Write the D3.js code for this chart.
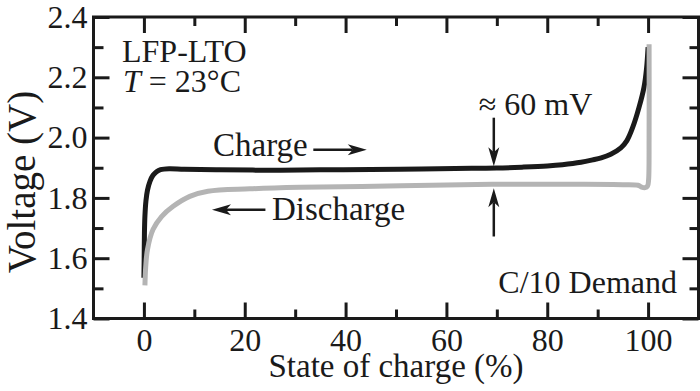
<!DOCTYPE html>
<html>
<head>
<meta charset="utf-8">
<script src="https://cdn.jsdelivr.net/npm/d3@7"></script>
<style>
  body { margin: 0; background: #fff; }
  text { font-family: "Liberation Serif", "Times New Roman", serif; fill: #1a1a1a; }
</style>
</head>
<body>
<div id="main"></div>
<script>
// charge curve (black), state of charge in % and voltage in V
var chargeSoc = [0, 0.05, 0.1, 0.2, 0.4, 0.7, 1.2, 1.8, 2.5, 3.3, 5, 8, 15, 25, 35, 45, 55, 65, 70, 75, 80, 83, 86.7, 89, 90.7, 92.6, 94.6, 95.8, 97, 98.2, 99.2, 99.7, 100];
var chargeV   = [1.535, 1.60, 1.68, 1.74, 1.79, 1.825, 1.855, 1.875, 1.887, 1.894, 1.897, 1.895, 1.893, 1.892, 1.893, 1.894, 1.896, 1.898, 1.899, 1.902, 1.906, 1.910, 1.918, 1.926, 1.933, 1.945, 1.966, 1.99, 2.036, 2.10, 2.168, 2.23, 2.30];

// discharge curve (grey)
var dischargeSoc = [100.2, 100.2, 100.1, 99.9, 99.4, 98.7, 98, 95, 85, 69, 51, 31, 21, 12.7, 9.1, 5.8, 3.5, 1.8, 0.7, 0.35, 0.2];
var dischargeV   = [2.31, 2.0, 1.86, 1.840, 1.834, 1.836, 1.842, 1.844, 1.845, 1.845, 1.840, 1.835, 1.830, 1.822, 1.805, 1.772, 1.738, 1.695, 1.628, 1.57, 1.51];

// tick values
var xMajor = [0, 20, 40, 60, 80, 100];
var xMinor = [10, 30, 50, 70, 90];
var yMajor = [1.4, 1.6, 1.8, 2.0, 2.2, 2.4];
var yMinor = [1.5, 1.7, 1.9, 2.1, 2.3];

const w = 700;
const h = 391;

const x = d3.scaleLinear().domain([-10, 110]).range([93.5, 698.5]);
const y = d3.scaleLinear().domain([1.4, 2.4]).range([318.5, 17]);

const svg = d3.select('#main')
            .append('svg')
            .attr('width', w)
            .attr('height', h);

const line = d3.line()
              .x(d => x(d[0]))
              .y(d => y(d[1]))
              .curve(d3.curveCatmullRom.alpha(0.5));

// curves
svg.append('path')
    .datum(chargeSoc.map((s, i) => [s, chargeV[i]]))
    .attr('d', line)
    .attr('fill', 'none')
    .attr('stroke', '#1a1a1a')
    .attr('stroke-width', 5)
    .attr('stroke-linejoin', 'round');

svg.append('path')
    .datum(dischargeSoc.map((s, i) => [s, dischargeV[i]]))
    .attr('d', line)
    .attr('fill', 'none')
    .attr('stroke', '#b4b4b4')
    .attr('stroke-width', 5)
    .attr('stroke-linejoin', 'round');

// axes: ticks point inward on all four sides
function styleAxis(g) {
    g.select('.domain').remove();
    g.selectAll('.tick line').attr('stroke', '#1a1a1a').attr('stroke-width', 3);
    g.selectAll('.tick text').attr('font-size', 32).attr('fill', '#1a1a1a')
        .style('font-family', '"Liberation Serif", serif');
}

svg.append('g').attr('transform', `translate(0,${y(1.4)})`)
    .call(d3.axisBottom(x).tickValues(xMajor).tickSizeInner(-16).tickPadding(10).tickFormat(d3.format('d')))
    .call(styleAxis);
svg.append('g').attr('transform', `translate(0,${y(1.4)})`)
    .call(d3.axisBottom(x).tickValues(xMinor).tickSizeInner(-9).tickFormat(''))
    .call(styleAxis);
svg.append('g').attr('transform', `translate(0,${y(2.4)})`)
    .call(d3.axisTop(x).tickValues(xMajor).tickSizeInner(-16).tickFormat(''))
    .call(styleAxis);
svg.append('g').attr('transform', `translate(0,${y(2.4)})`)
    .call(d3.axisTop(x).tickValues(xMinor).tickSizeInner(-9).tickFormat(''))
    .call(styleAxis);

svg.append('g').attr('transform', `translate(${x(-10)},0)`)
    .call(d3.axisLeft(y).tickValues(yMajor).tickSizeInner(-16).tickPadding(6).tickFormat(d3.format('.1f')))
    .call(styleAxis);
svg.append('g').attr('transform', `translate(${x(-10)},0)`)
    .call(d3.axisLeft(y).tickValues(yMinor).tickSizeInner(-10).tickFormat(''))
    .call(styleAxis);
svg.append('g').attr('transform', `translate(${x(110)},0)`)
    .call(d3.axisRight(y).tickValues(yMajor).tickSizeInner(-16).tickFormat(''))
    .call(styleAxis);
svg.append('g').attr('transform', `translate(${x(110)},0)`)
    .call(d3.axisRight(y).tickValues(yMinor).tickSizeInner(-9).tickFormat(''))
    .call(styleAxis);

// frame
svg.append('rect')
    .attr('x', x(-10))
    .attr('y', y(2.4))
    .attr('width', x(110) - x(-10))
    .attr('height', y(1.4) - y(2.4))
    .attr('fill', 'none')
    .attr('stroke', '#1a1a1a')
    .attr('stroke-width', 3);

// axis titles
svg.append('text')
    .attr('x', 396)
    .attr('y', 377)
    .attr('text-anchor', 'middle')
    .attr('font-size', 33)
    .text('State of charge (%)');

svg.append('text')
    .attr('transform', 'translate(35,182) rotate(-90)')
    .attr('text-anchor', 'middle')
    .attr('font-size', 39)
    .text('Voltage (V)');

// annotations
svg.append('text').attr('x', 122).attr('y', 62).attr('font-size', 32).text('LFP-LTO');
const tt = svg.append('text').attr('x', 123).attr('y', 92).attr('font-size', 32);
tt.append('tspan').attr('font-style', 'italic').text('T');
tt.append('tspan').text(' = 23°C');

svg.append('text').attr('x', x(13.7)).attr('y', y(1.940)).attr('font-size', 33).text('Charge');
svg.append('text').attr('x', x(25.4)).attr('y', y(1.728)).attr('font-size', 33).text('Discharge');
svg.append('text').attr('x', x(66.4)).attr('y', y(2.075)).attr('font-size', 32).text('≈ 60 mV');
svg.append('text').attr('x', 677).attr('y', 293).attr('text-anchor', 'end').attr('font-size', 32).text('C/10 Demand');

// arrows: tail (x1, y1) to tip (x2, y2) in data units
function arrow(x1, y1, x2, y2) {
    const px1 = x(x1), py1 = y(y1), px2 = x(x2), py2 = y(y2);
    const ang = Math.atan2(py2 - py1, px2 - px1);
    const len = 19, half = 5.5, notch = 5;
    const cs = Math.cos(ang), sn = Math.sin(ang);
    const bx = px2 - len * cs, by = py2 - len * sn;
    const ix = px2 - (len - notch) * cs, iy = py2 - (len - notch) * sn;
    svg.append('line')
        .attr('x1', px1).attr('y1', py1)
        .attr('x2', ix).attr('y2', iy)
        .attr('stroke', '#1a1a1a').attr('stroke-width', 2.5);
    const nx = -sn, ny = cs;
    svg.append('path')
        .attr('d', `M${px2},${py2}L${bx + half * nx},${by + half * ny}L${ix},${iy}L${bx - half * nx},${by - half * ny}Z`)
        .attr('fill', '#1a1a1a');
}

arrow(33.6, 1.96, 44.2, 1.96);
arrow(24.1, 1.761, 13.5, 1.761);
arrow(69.4, 2.066, 69.4, 1.905);
arrow(69.4, 1.672, 69.4, 1.832);
</script>
</body>
</html>
